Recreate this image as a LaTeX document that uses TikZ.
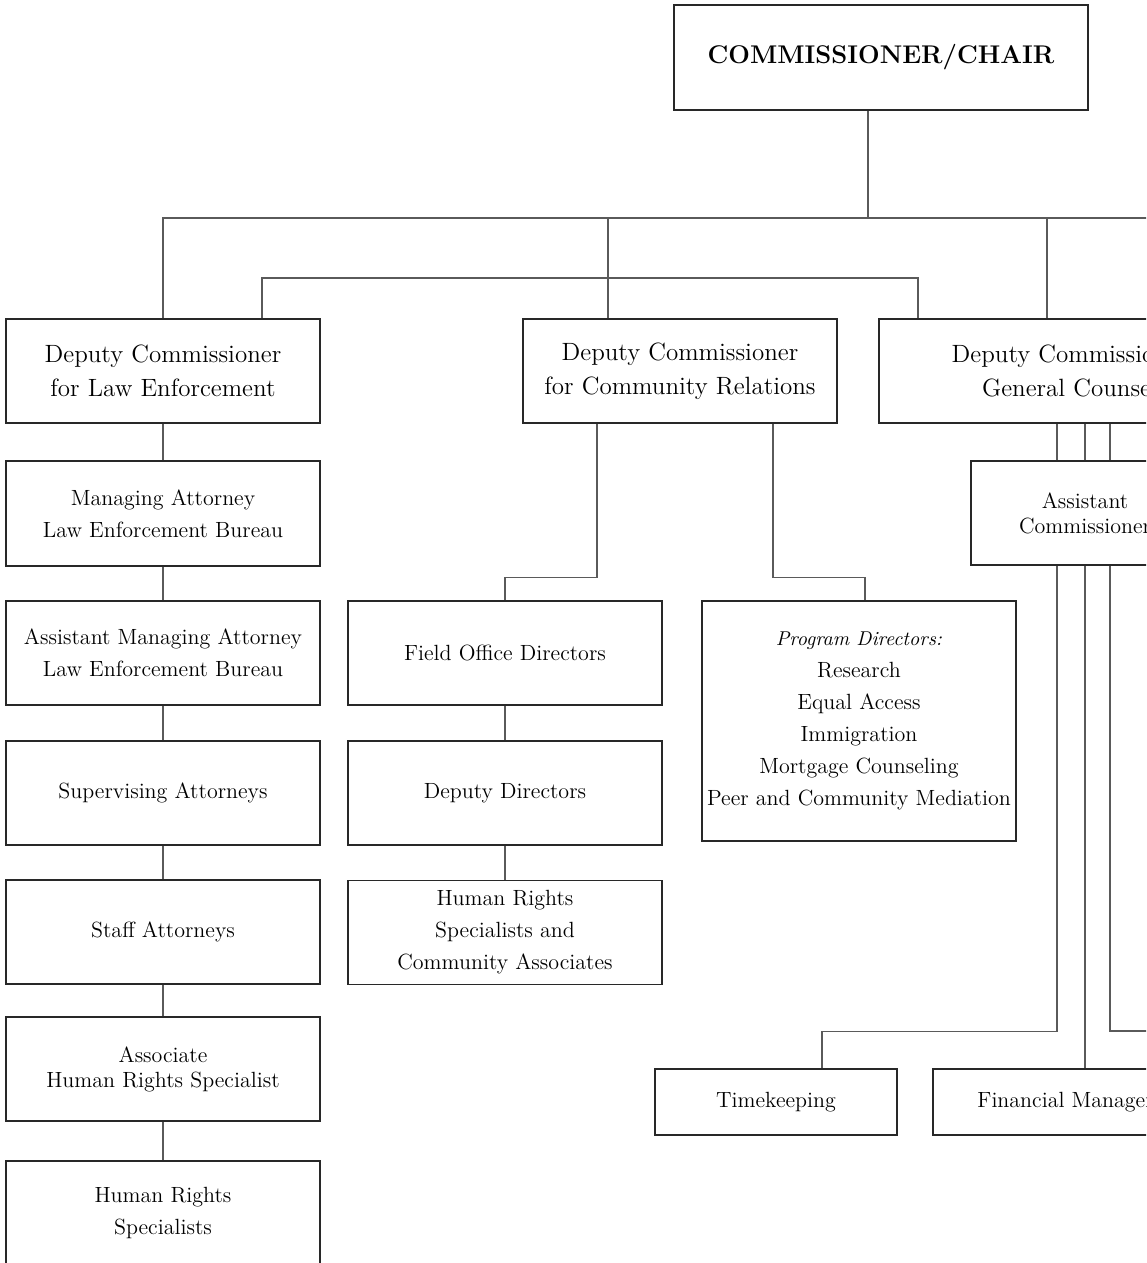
\documentclass[tikz,border=0pt]{standalone}
\usetikzlibrary{positioning}
\definecolor{boxline}{RGB}{40,40,40}
\definecolor{linkgray}{RGB}{90,90,90}
\tikzset{
  orgbox/.style={rectangle, draw=boxline, line width=0.75pt, minimum width=157pt, minimum height=52pt, inner sep=0pt, align=center, font=\fontsize{11}{16}\selectfont},
  headbox/.style={orgbox, font=\fontsize{12.5}{17}\selectfont},
  tightbox/.style={orgbox, font=\fontsize{11}{12.5}\selectfont},
  link/.style={draw=linkgray, line width=0.7pt},
}
\begin{document}
\begin{tikzpicture}[x=0.5pt,y=-0.5pt]
\useasboundingbox (0,0) rectangle (1146,1263);
\clip (0,0) rectangle (1146,1263);

% Top
\node[orgbox, line width=1pt, minimum width=207pt, minimum height=52.5pt, font=\fontsize{12.8}{16}\selectfont\bfseries] (chair) at (881,57.5) {COMMISSIONER/CHAIR};

% Deputy commissioners
\node[headbox] (dcLaw) at (163,371) {Deputy Commissioner\\for Law Enforcement};
\node[headbox] (dcCom) at (680,371) {Deputy Commissioner\\for Community Relations};
\node[headbox, minimum width=191pt] (dcGen) at (1070,371) {Deputy Commissioner\\General Counsel};

% Law enforcement column
\node[orgbox, minimum height=52.5pt] (mngAtt) at (163,513.5) {Managing Attorney\\Law Enforcement Bureau};
\node[orgbox] (asstMng) at (163,653) {Assistant Managing Attorney\\Law Enforcement Bureau};
\node[orgbox] (supAtt) at (163,793) {Supervising Attorneys};
\node[orgbox] (staffAtt) at (163,932) {Staff Attorneys};
\node[tightbox] (assocHRS) at (163,1069) {Associate\\Human Rights Specialist};
\node[orgbox] (hrSpec) at (163,1213) {Human Rights\\Specialists};

% Community relations
\node[orgbox] (field) at (505,653) {Field Office Directors};
\node[orgbox] (depDir) at (505,793) {Deputy Directors};
\node[orgbox] (hrsCom) at (505,932.5) {Human Rights\\Specialists and\\Community Associates};
\node[orgbox, minimum height=120pt] (progDir) at (859,721) {{\itshape\fontsize{10}{16}\selectfont Program Directors:}\\Research\\Equal Access\\Immigration\\Mortgage Counseling\\Peer and Community Mediation};

% General counsel
\node[tightbox, minimum width=114pt] (asstCom) at (1085,513) {Assistant\\Commissioner};
\node[orgbox, minimum width=121pt, minimum height=33pt] (timeK) at (776,1102) {Timekeeping};
\node[orgbox, minimum width=152pt, minimum height=33pt] (finMgmt) at (1085,1102) {Financial Management};

% Buses
\coordinate (busTop) at (1160,218);
\coordinate (busMid) at (600,278);
\coordinate (offRight) at (1160,1031);
\draw[link] (dcLaw.north) |- (busTop);
\draw[link] ([xshift=-6.5pt]chair.south) -- ([xshift=-6.5pt]chair.south |- busTop);
\draw[link] ([xshift=-36pt]dcCom.north) -- ([xshift=-36pt]dcCom.north |- busTop);
\draw[link] ([xshift=-11.5pt]dcGen.north) -- ([xshift=-11.5pt]dcGen.north |- busTop);
\draw[link] ([xshift=49.5pt]dcLaw.north) |- (busMid) -| ([xshift=-76pt]dcGen.north);

% Chains
\foreach \a/\b in {dcLaw/mngAtt, mngAtt/asstMng, asstMng/supAtt, supAtt/staffAtt, staffAtt/assocHRS, assocHRS/hrSpec, field/depDir, depDir/hrsCom}
  \draw[link] (\a) -- (\b);

\draw[link] ([xshift=-41.5pt]dcCom.south) -- ++(0,154) -| (field.north);
\draw[link] ([xshift=46.5pt]dcCom.south) -- ++(0,154) -| ([xshift=3pt]progDir.north);

\foreach \dx in {-14,0,12.5}
  \draw[link] ([xshift=\dx pt]asstCom.north) -- ([xshift=\dx pt]asstCom.north |- dcGen.south);
\draw[link] ([xshift=-14pt]asstCom.south) -- ++(0,466) -| ([xshift=23pt]timeK.north);
\draw[link] (asstCom.south) -- (finMgmt.north);
\draw[link] ([xshift=12.5pt]asstCom.south) |- (offRight);
\end{tikzpicture}
\end{document}
